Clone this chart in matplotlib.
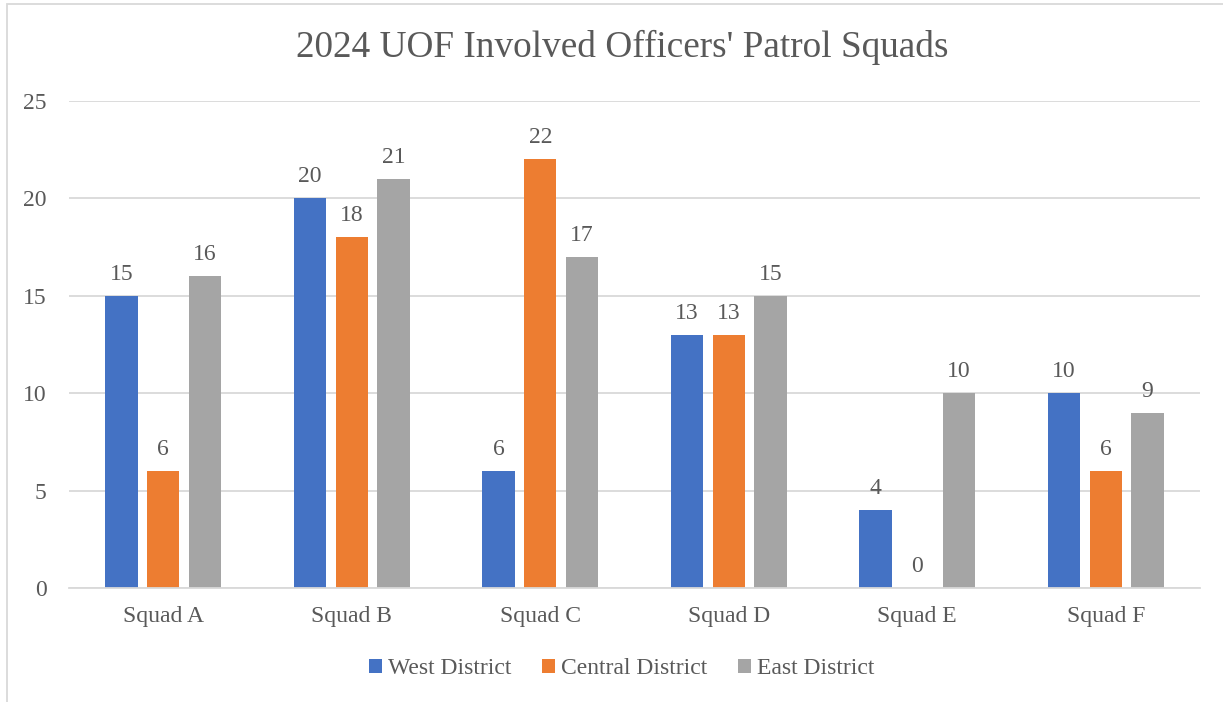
import numpy as np
import matplotlib
matplotlib.use("Agg")
import matplotlib.pyplot as plt
from matplotlib.patches import Patch, Rectangle

plt.rcParams["font.family"] = ["Liberation Serif", "DejaVu Serif"]

# ── 데이터 ─────────────────────────────────────────────
squads = ["Squad A", "Squad B", "Squad C", "Squad D", "Squad E", "Squad F"]
west = [15, 20, 6, 13, 4, 10]
central = [6, 18, 22, 13, 0, 6]
east = [16, 21, 17, 15, 10, 9]
series_names = ["West District", "Central District", "East District"]
colors = ["#4472C4", "#ED7D31", "#A5A5A5"]
title = "2024 UOF Involved Officers' Patrol Squads"

TXT = "#595959"
GRID = "#D9D9D9"

fig = plt.figure(figsize=(12.23, 7.02), dpi=100)
ax = fig.add_axes([69 / 1223, 1 - 588 / 702, 1131 / 1223, 487 / 702])

x = np.arange(len(squads))
width = 0.172
step = 0.221
for i, (vals, name, col) in enumerate(zip([west, central, east], series_names, colors)):
    bars = ax.bar(x + (i - 1) * step, vals, width, color=col, label=name, zorder=3)
    ax.bar_label(bars, padding=8, fontsize=17, color=TXT)

ax.set_xlim(-0.5, len(squads) - 0.5)
ax.set_ylim(0, 25)
ax.set_yticks(np.arange(0, 26, 5))
ax.set_xticks(x)
ax.set_xticklabels(squads)
ax.tick_params(axis="both", length=0, labelsize=17, labelcolor=TXT)
ax.tick_params(axis="y", pad=16)
ax.tick_params(axis="x", pad=13)
ax.grid(axis="y", color=GRID, linewidth=1.3, zorder=0)
for s in ["top", "right", "left"]:
    ax.spines[s].set_visible(False)
ax.spines["bottom"].set_color(GRID)
ax.spines["bottom"].set_linewidth(1.3)
ax.spines["bottom"].set_zorder(4)

fig.text(622 / 1223, 1 - 47 / 702, title, ha="center", va="center",
         fontsize=26.8, color=TXT)

handles = [Patch(facecolor=c) for c in colors]
fig.legend(handles, series_names, loc="center", bbox_to_anchor=(622 / 1223, 1 - 669 / 702),
           ncol=3, frameon=False, fontsize=17, labelcolor=TXT,
           handlelength=0.55, handleheight=0.55, handletextpad=0.25, columnspacing=1.3)

# 차트 테두리
fig.patches.append(Rectangle((7 / 1223, -0.05), 1.2, 1 - 4 / 702 + 0.05,
                             transform=fig.transFigure, fill=False,
                             edgecolor=GRID, linewidth=1.3))

fig.savefig("out.png", dpi=100)
